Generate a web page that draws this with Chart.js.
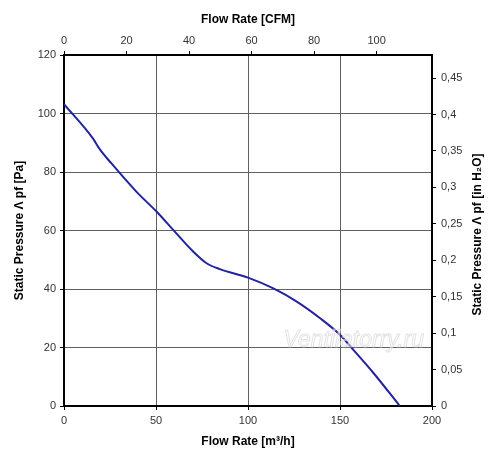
<!DOCTYPE html>
<html>
<head>
<meta charset="utf-8">
<script src="https://cdn.jsdelivr.net/npm/chart.js@4/dist/chart.umd.min.js"></script>
<style>
  html, body { margin: 0; padding: 0; background: #fff; }
  #wrap { width: 500px; height: 473px; position: relative; }
</style>
</head>
<body>
<div id="wrap"><canvas id="fan-chart"></canvas></div>
<script>
// fan curve: flow in m3/h, static pressure in Pa
const flowM3h = [0, 15.7, 19.3, 25.7, 39.3, 50.4, 60.2, 70.2, 77.5, 84.7, 100, 113.8, 126.5, 139.2, 150.1, 157.4, 168.3, 182.5];
const pressurePa = [103.2, 91.5, 87.9, 83, 73.3, 66.4, 59.6, 52.8, 48.8, 46.8, 43.9, 40.2, 35.7, 30, 24.3, 19.1, 11.2, 0];

const flowRange = [0, 200];        // m3/h
const pressureRange = [0, 120];    // Pa
const M3H_PER_CFM = 1.699;
const INH2O_PER_PA = 0.0040146;

const context = document.getElementById('fan-chart').getContext('2d');

let points = [];
flowM3h.forEach((f, i) => {
    points.push({ x: f, y: pressurePa[i] });
});

const fontFamily = "'Liberation Sans', Arial, sans-serif";
const tickFont = { family: fontFamily, size: 11 };
const titleFont = { family: fontFamily, size: 12, weight: 'bold' };
const rightTitle = 'Static Pressure Λ pf [in H₂O]';

function comma(v) {
    return String(parseFloat(v.toFixed(2))).replace('.', ',');
}

function fixSize(prop, px) {
    return function (scale) { scale[prop] = px; };
}

const fanChart = new Chart(context, {
    type: 'scatter',
    data: {
        datasets: [{
            label: 'Static pressure',
            data: points,
            showLine: true,
            borderColor: '#2323a0',
            borderWidth: 2,
            pointRadius: 0,
            cubicInterpolationMode: 'monotone',
            xAxisID: 'x',
            yAxisID: 'y'
        }]
    },
    options: {
        responsive: true,
        maintainAspectRatio: false,
        animation: false,
        layout: { padding: 0 },
        plugins: {
            legend: { display: false },
            tooltip: { enabled: false }
        },
        scales: {
            x: {
                type: 'linear',
                position: 'bottom',
                min: flowRange[0],
                max: flowRange[1],
                ticks: { stepSize: 50, font: tickFont, color: '#333', padding: 4, maxRotation: 0 },
                grid: { color: '#606060', lineWidth: 1, tickColor: '#000', tickLength: 4 },
                border: { color: '#000', width: 2 },
                title: { display: true, text: 'Flow Rate [m³/h]', font: titleFont, color: '#000', padding: { top: 0, bottom: 24 } },
                afterFit: fixSize('height', 67)
            },
            x2: {
                type: 'linear',
                position: 'top',
                min: 0,
                max: flowRange[1] / M3H_PER_CFM,
                ticks: { stepSize: 20, includeBounds: false, font: tickFont, color: '#333', padding: 3, maxRotation: 0 },
                grid: { drawOnChartArea: false, tickColor: '#000', tickLength: 4 },
                border: { color: '#000', width: 2 },
                title: { display: true, text: 'Flow Rate [CFM]', font: titleFont, color: '#000', padding: { top: 12, bottom: 0 } },
                afterFit: fixSize('height', 55)
            },
            y: {
                type: 'linear',
                position: 'left',
                min: pressureRange[0],
                max: pressureRange[1],
                ticks: { stepSize: 20, font: tickFont, color: '#333', padding: 4 },
                grid: { color: '#606060', lineWidth: 1, tickColor: '#000', tickLength: 4 },
                border: { color: '#000', width: 2 },
                title: { display: true, text: 'Static Pressure Λ pf [Pa]', font: titleFont, color: '#000', padding: { top: 12, bottom: 0 } },
                afterFit: fixSize('width', 64)
            },
            y2: {
                type: 'linear',
                position: 'right',
                min: 0,
                max: pressureRange[1] * INH2O_PER_PA,
                ticks: { stepSize: 0.05, includeBounds: false, font: tickFont, color: '#333', padding: 5, callback: v => comma(v) },
                grid: { drawOnChartArea: false, tickColor: '#000', tickLength: 4 },
                border: { color: '#000', width: 2 },
                afterFit: fixSize('width', 68)
            }
        }
    },
    plugins: [{
        // right axis title reads bottom-to-top like the left one
        id: 'rightTitle',
        afterDraw(chart) {
            const { ctx, chartArea } = chart;
            const scale = chart.scales.y2;
            ctx.save();
            ctx.translate(scale.right - 22, (chartArea.top + chartArea.bottom) / 2 + 4);
            ctx.rotate(-Math.PI / 2);
            ctx.font = `bold 12px ${fontFamily}`;
            ctx.fillStyle = '#000';
            ctx.textAlign = 'center';
            ctx.textBaseline = 'middle';
            ctx.fillText(rightTitle, 0, 0);
            ctx.restore();
        }
    }, {
        id: 'watermark',
        afterDatasetsDraw(chart) {
            const { ctx, chartArea } = chart;
            ctx.save();
            ctx.font = `italic 23px ${fontFamily}`;
            ctx.textAlign = 'right';
            ctx.textBaseline = 'middle';
            ctx.fillStyle = 'rgba(255,255,255,0.5)';
            ctx.strokeStyle = 'rgba(205,205,205,0.55)';
            ctx.lineWidth = 1;
            const tx = chartArea.right - 8;
            const ty = chartArea.top + chartArea.height * 0.815;
            ctx.fillText('Ventilatorry.ru', tx, ty);
            ctx.strokeText('Ventilatorry.ru', tx, ty);
            ctx.restore();
        }
    }]
});
</script>
</body>
</html>
